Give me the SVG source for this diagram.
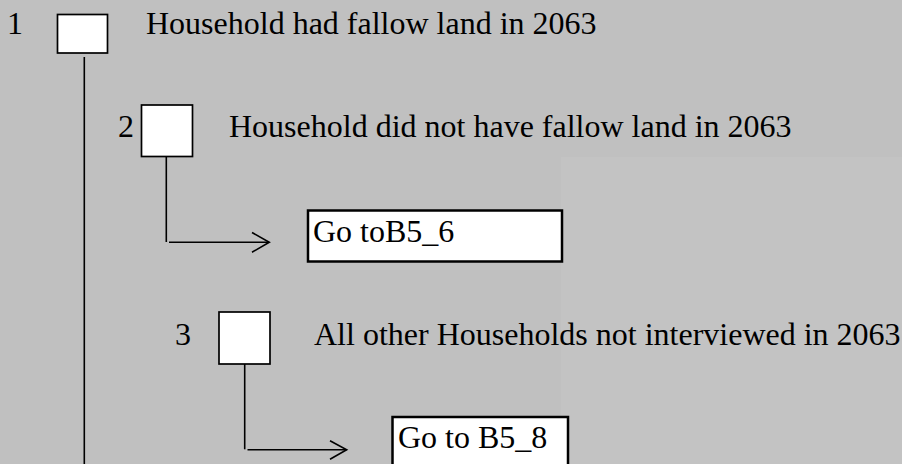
<svg xmlns="http://www.w3.org/2000/svg" width="902" height="464" viewBox="0 0 902 464">
<style>
.t{font-family:"Liberation Serif","Times New Roman",serif;font-size:32px;fill:#000}
.box{fill:#fff;stroke:#000;stroke-width:1.7}
.gobox{fill:#fff;stroke:#000;stroke-width:2.5}
.ln{stroke:#000;stroke-width:1.6;fill:none}
</style>
<rect x="0" y="0" width="902" height="464" fill="#c0c0c0"/>
<rect x="561" y="157" width="341" height="307" fill="#c3c3c3"/>
<g id="node1">
<text class="t" x="7" y="34">1</text>
<rect class="box" x="57.5" y="14.5" width="50" height="38.5"/>
<text class="t" x="146" y="34">Household had fallow land in 2063</text>
</g>
<g id="node2">
<text class="t" x="118" y="137">2</text>
<rect class="box" x="141.5" y="105" width="51" height="51.5"/>
<text class="t" x="229" y="137">Household did not have fallow land in 2063</text>
</g>
<g id="goto1">
<rect class="gobox" x="308" y="210.5" width="254" height="51"/>
<text class="t" x="313" y="242">Go toB5_6</text>
</g>
<g id="node3">
<text class="t" x="175" y="345">3</text>
<rect class="box" x="219" y="312" width="51" height="52"/>
<text class="t" x="314" y="345">All other Households not interviewed in 2063</text>
</g>
<g id="goto2">
<rect class="gobox" x="392.5" y="417" width="175.5" height="60"/>
<text class="t" x="398" y="448">Go to B5_8</text>
</g>
<g id="connectors">
<line class="ln" x1="84.3" y1="57" x2="84.3" y2="464"/>
<line class="ln" x1="166.3" y1="157" x2="166.3" y2="242"/>
<line class="ln" x1="169" y1="242.3" x2="269" y2="242.3"/>
<polyline class="ln" points="252,232.5 269.3,242.3 252,252.2"/>
<line class="ln" x1="244.7" y1="364" x2="244.7" y2="449.3"/>
<line class="ln" x1="247.5" y1="449.7" x2="346.5" y2="449.7"/>
<polyline class="ln" points="330,440.7 346.7,449.7 330,459.3"/>
</g>
</svg>
